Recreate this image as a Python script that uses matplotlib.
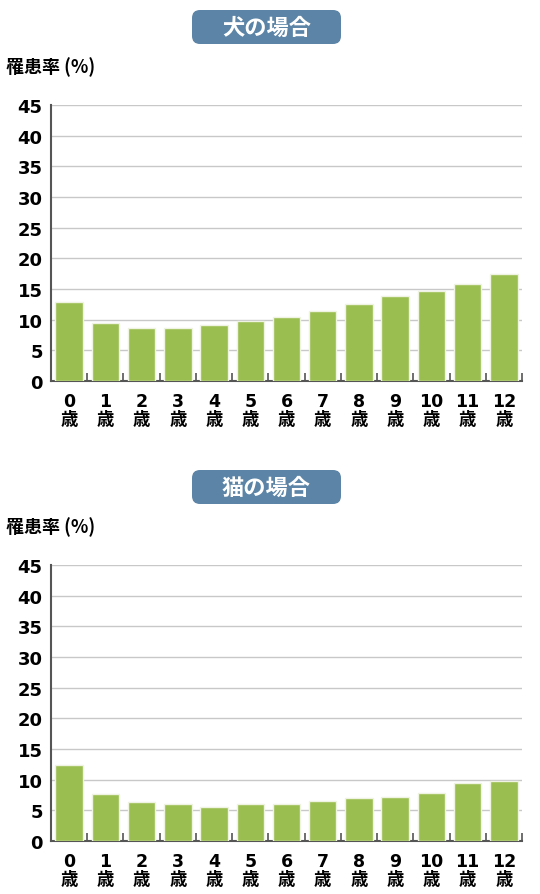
import numpy as np
import matplotlib
matplotlib.use("Agg")
import matplotlib.pyplot as plt
from matplotlib.patches import FancyBboxPatch

ages = ["0", "1", "2", "3", "4", "5", "6", "7", "8", "9", "10", "11", "12"]
dog_rate = [12.9, 9.5, 8.7, 8.6, 9.2, 9.8, 10.4, 11.4, 12.6, 13.8, 14.7, 15.8, 17.4]
cat_rate = [12.4, 7.6, 6.4, 6.0, 5.6, 6.0, 6.0, 6.5, 7.0, 7.2, 7.8, 9.5, 9.8]
titles = ["犬の場合", "猫の場合"]
ylabel = "罹患率 (%)"
yticks = [0, 5, 10, 15, 20, 25, 30, 35, 40, 45]

W, H = 540, 895
BAR = "#9bbe50"
BOX = "#5b84a6"
num_font = ["DejaVu Sans", "Noto Sans CJK JP"]
jp_font = ["Noto Sans CJK JP", "DejaVu Sans"]

fig = plt.figure(figsize=(W / 100, H / 100), dpi=100)

def px_axes(x0, y0, x1, y1):
    # pixel box (top-left origin) -> figure coords
    return fig.add_axes([x0 / W, 1 - y1 / H, (x1 - x0) / W, (y1 - y0) / H])

def draw_panel(vals, top, bottom):
    ax = px_axes(51, top, 522, bottom)
    x = np.arange(len(vals))
    ax.bar(x, vals, width=0.76, color=BAR, edgecolor="#eef3e2", linewidth=1, zorder=3)
    ax.set_xlim(-0.5, len(vals) - 0.5)
    ax.set_ylim(0, 45)
    ax.set_yticks(yticks)
    ax.set_yticklabels([str(t) for t in yticks], fontsize=13, fontweight="bold", family=num_font)
    ax.tick_params(axis="y", length=0, pad=6)
    ax.grid(axis="y", color="#c8c8c8", linewidth=1, zorder=0)
    # ticks at category boundaries, labels in the middle
    ax.set_xticks(np.arange(len(vals) + 1) - 0.5)
    ax.set_xticklabels([])
    ax.tick_params(axis="x", which="major", direction="in", length=6, width=1.2, color="#555555")
    ax.set_xticks(x, minor=True)
    ax.set_xticklabels([a + "\n歳" for a in ages], minor=True, fontsize=12.5,
                       fontweight="bold", family=num_font, linespacing=1.0)
    ax.tick_params(axis="x", which="minor", length=0, pad=8)
    for s in ["top", "right"]:
        ax.spines[s].set_visible(False)
    for s in ["left", "bottom"]:
        ax.spines[s].set_color("#555555")
        ax.spines[s].set_linewidth(1.5)
    return ax

draw_panel(dog_rate, 106, 382)
draw_panel(cat_rate, 566, 842)

# overlay for title boxes and axis captions
ov = fig.add_axes([0, 0, 1, 1])
ov.set_xlim(0, W)
ov.set_ylim(H, 0)
ov.axis("off")
for title, ytop, ylab in [(titles[0], 11, 67), (titles[1], 471, 527)]:
    ov.add_patch(FancyBboxPatch((192, ytop), 149, 34,
                                boxstyle="round,pad=0,rounding_size=8",
                                facecolor=BOX, edgecolor="none"))
    ov.text(266.5, ytop + 17, title, ha="center", va="center", color="white",
            fontsize=16, fontweight="bold", family=jp_font)
    ov.text(6, ylab, ylabel, ha="left", va="center", color="black",
            fontsize=13, fontweight="bold", family=jp_font)

fig.savefig("out.png", dpi=100)
